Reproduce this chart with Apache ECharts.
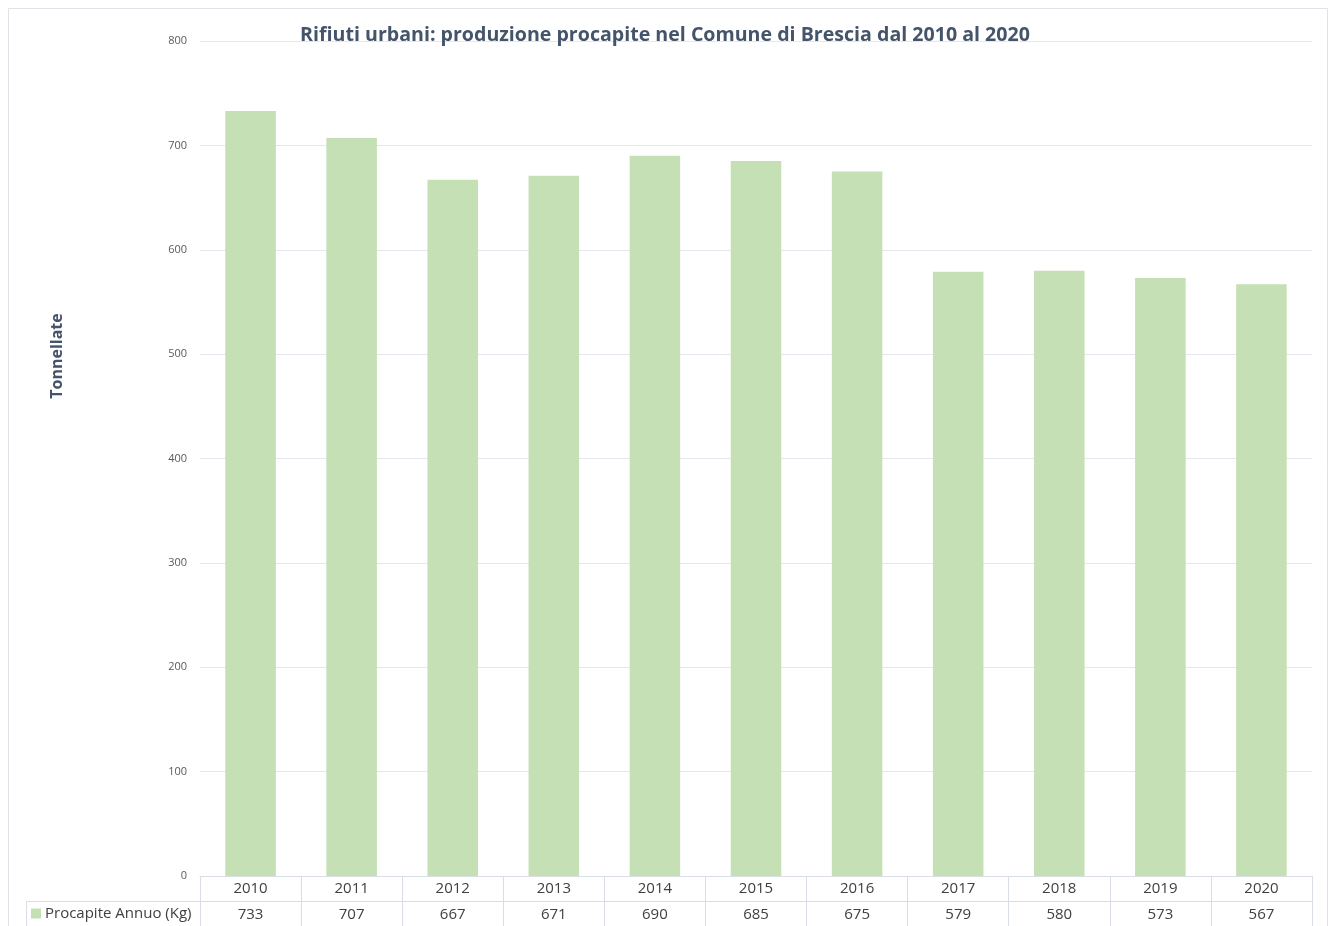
<!DOCTYPE html>
<html lang="it">
<head>
    <meta charset="UTF-8">
    <title>Rifiuti urbani procapite Brescia</title>
    <script type="text/javascript" src="https://cdn.jsdelivr.net/npm/echarts@6/dist/echarts.min.js"></script>
    <style>
        html, body { margin: 0; padding: 0; background: #fff; }
    </style>
</head>
<body>
<div id="bar" style="width: 1330px;height:926px;"></div>
<script>

    // dati
    var anni = ['2010', '2011', '2012', '2013', '2014', '2015', '2016', '2017', '2018', '2019', '2020'];
    var procapite = [733, 707, 667, 671, 690, 685, 675, 579, 580, 573, 567];
    var nomeSerie = 'Procapite Annuo (Kg)';

    var lineColor = '#d9dde6';
    var textColor = '#404040';

    var option = {
        textStyle: { fontFamily: 'Open Sans' },
        title: {
            text: 'Rifiuti urbani: produzione procapite nel Comune di Brescia dal 2010 al 2020',
            left: 'center',
            top: 20,
            textStyle: {
                fontFamily: 'Open Sans',
                fontSize: 19.6,
                fontWeight: 'bold',
                color: '#44546a'
            }
        },
        legend: {
            left: 31,
            top: 906,
            padding: 0,
            icon: 'rect',
            itemWidth: 10,
            itemHeight: 10,
            itemGap: 4,
            textStyle: { fontSize: 15, color: textColor, fontFamily: 'Open Sans', padding: [0, 0, 0, -1] },
            data: [nomeSerie]
        },
        grid: {
            left: 200,
            right: 18,
            top: 41,
            bottom: 50
        },
        xAxis: [{
            type: 'category',
            data: anni,
            position: 'bottom',
            axisLine: { show: true, lineStyle: { color: lineColor } },
            axisTick: { show: true, length: 25, interval: 0, lineStyle: { color: lineColor } },
            axisLabel: { margin: 5, fontSize: 15, color: textColor }
        }, {
            type: 'category',
            data: procapite.map(String),
            position: 'bottom',
            offset: 25,
            axisLine: { show: true, lineStyle: { color: lineColor } },
            axisTick: { show: true, length: 30, interval: 0, lineStyle: { color: lineColor } },
            axisLabel: { margin: 6, fontSize: 15, color: textColor }
        }],
        yAxis: {
            type: 'value',
            min: 0,
            max: 800,
            interval: 100,
            axisLine: { show: false },
            axisTick: { show: false },
            axisLabel: { margin: 13, fontSize: 11, color: '#595959' },
            splitLine: { lineStyle: { color: '#e4e7ee' } }
        },
        graphic: [{
            type: 'rect',
            shape: { x: 8.5, y: 8.5, width: 1319, height: 960 },
            style: { fill: 'none', stroke: '#dfe2e8', lineWidth: 1 },
            silent: true
        }, {
            type: 'line',
            shape: { x1: 26, y1: 901.5, x2: 200, y2: 901.5 },
            style: { stroke: lineColor, lineWidth: 1 }
        }, {
            type: 'line',
            shape: { x1: 26.5, y1: 901, x2: 26.5, y2: 940 },
            style: { stroke: lineColor, lineWidth: 1 }
        }, {
            type: 'text',
            x: 57,
            y: 356,
            rotation: Math.PI / 2,
            style: {
                text: 'Tonnellate',
                font: 'bold 16px "Open Sans"',
                fill: '#44546a',
                align: 'center',
                verticalAlign: 'middle'
            }
        }],
        series: [{
            name: nomeSerie,
            type: 'bar',
            barWidth: '50%',
            itemStyle: { color: '#c5e0b4' },
            data: procapite
        }]
    };

    var myChart = echarts.init(document.getElementById('bar'));
    myChart.setOption(option);

</script>
</body>
</html>
